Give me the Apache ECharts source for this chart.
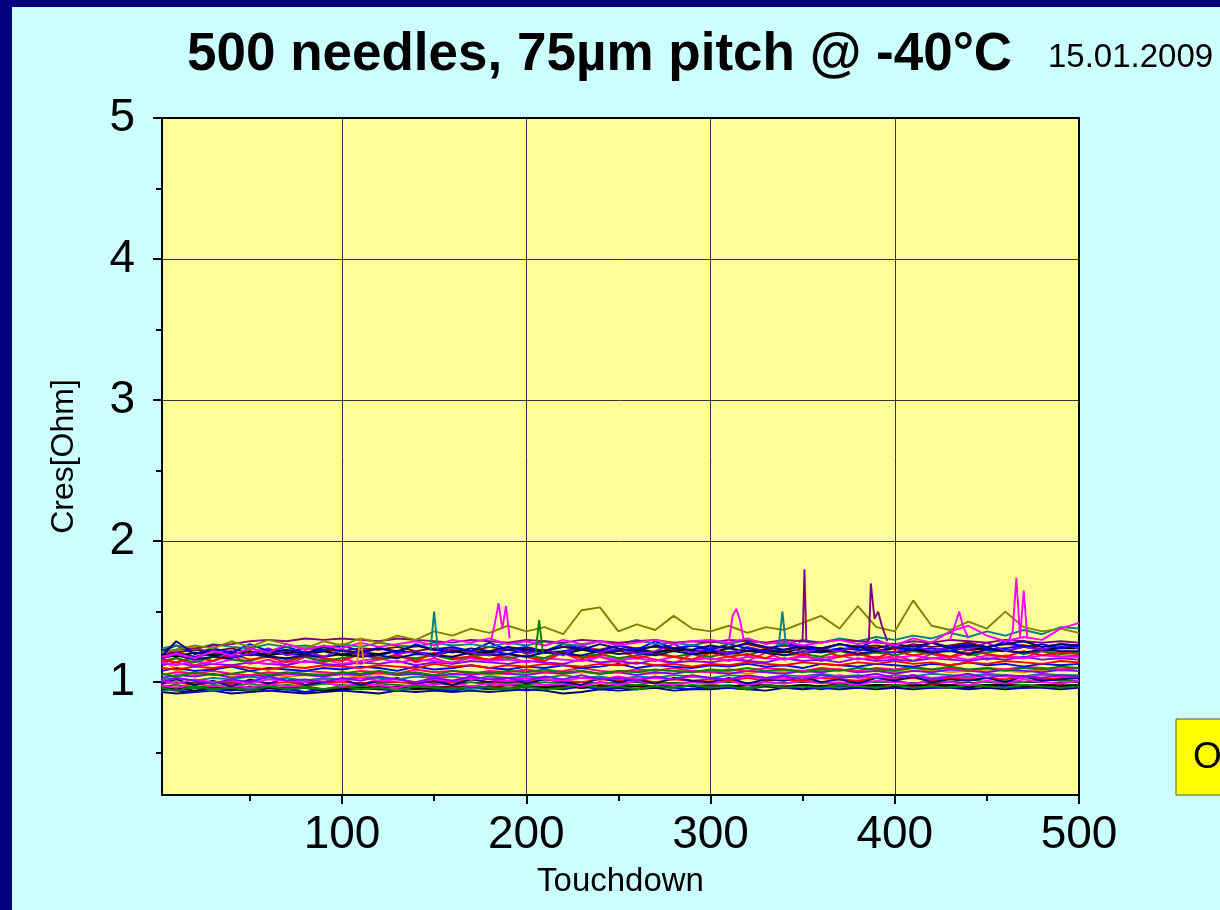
<!DOCTYPE html>
<html>
<head>
<meta charset="utf-8">
<title>500 needles, 75µm pitch @ -40°C</title>
<script src="https://cdn.jsdelivr.net/npm/echarts@6.0.0/dist/echarts.min.js"></script>
<style>
  html, body { margin: 0; padding: 0; background: #ccffff; }
  #chart { width: 1220px; height: 910px; }
</style>
</head>
<body>
<div id="chart"></div>
<script>
// touchdown numbers where the traces are sampled
const touchdowns = [2,10,20,30,40,50,60,70,80,90,
  100,110,120,130,140,150,160,170,180,190,
  200,210,220,230,240,250,260,270,280,290,
  300,310,320,330,340,350,360,370,380,390,
  400,410,420,430,440,450,460,470,480,490,
  500];

// contact resistance [Ohm] of a selection of needles
const navyLow = [0.93,0.92,0.93,0.94,0.92,0.93,0.94,0.93,0.92,0.93,
  0.94,0.93,0.92,0.94,0.93,0.94,0.93,0.94,0.93,0.94,
  0.95,0.94,0.92,0.93,0.95,0.94,0.95,0.96,0.94,0.95,
  0.95,0.96,0.95,0.94,0.96,0.95,0.96,0.95,0.96,0.95,
  0.96,0.95,0.96,0.96,0.95,0.96,0.95,0.96,0.96,0.95,
  0.96];
const blueLow = [0.95,0.94,0.93,0.95,0.94,0.96,0.94,0.95,0.93,0.95,
  0.94,0.96,0.95,0.94,0.96,0.95,0.94,0.96,0.95,0.96,
  0.94,0.96,0.95,0.97,0.95,0.96,0.95,0.97,0.96,0.95,
  0.97,0.96,0.95,0.97,0.96,0.97,0.95,0.97,0.96,0.97,
  0.96,0.98,0.96,0.97,0.96,0.98,0.97,0.96,0.97,0.98,
  0.97];
const tealLow = [0.94,0.95,0.96,0.94,0.96,0.95,0.97,0.95,0.96,0.94,
  0.96,0.95,0.97,0.96,0.95,0.97,0.96,0.95,0.97,0.96,
  0.97,0.96,0.98,0.96,0.97,0.96,0.98,0.97,0.96,0.98,
  0.97,0.98,0.96,0.98,0.97,0.98,0.97,0.96,0.98,0.97,
  0.98,0.97,0.99,0.97,0.98,0.97,0.99,0.98,0.97,0.98,
  0.98];
const wineLow = [0.96,0.95,0.97,0.96,0.95,0.97,0.96,0.96,0.97,0.95,
  0.97,0.96,0.97,0.96,0.98,0.96,0.97,0.97,0.96,0.98,
  0.97,0.97,0.98,0.96,0.98,0.97,0.98,0.97,0.98,0.97,
  0.98,0.97,0.98,0.98,0.97,0.98,0.97,0.99,0.97,0.98,
  0.98,0.97,0.99,0.98,0.97,0.98,0.99,0.97,0.98,0.98,
  0.97];
const blackLow = [0.95,0.96,0.94,0.96,0.95,0.94,0.96,0.95,0.96,0.94,
  0.95,0.96,0.95,0.97,0.95,0.96,0.95,0.97,0.96,0.95,
  0.97,0.96,0.97,0.96,0.97,0.96,0.97,0.96,0.98,0.97,
  0.96,0.97,0.98,0.97,0.96,0.98,0.97,0.98,0.97,0.98,
  0.97,0.98,0.97,0.98,0.97,0.98,0.98,0.97,0.98,0.97,
  0.98];
const greenLow2 = [0.96,0.94,0.97,0.95,0.96,0.94,0.97,0.95,0.96,0.95,
  0.97,0.95,0.96,0.94,0.97,0.96,0.95,0.97,0.96,0.95,
  0.97,0.95,0.96,0.98,0.96,0.97,0.95,0.97,0.96,0.98,
  0.96,0.97,0.95,0.98,0.96,0.97,0.96,0.98,0.97,0.96,
  0.98,0.96,0.97,0.96,0.98,0.97,0.96,0.98,0.97,0.96,
  0.97];
const greenLow = [0.97,0.98,0.96,0.98,0.97,0.99,0.97,0.98,0.97,0.99,
  0.98,0.97,0.99,0.98,0.97,0.99,0.98,1.00,0.98,0.99,
  0.98,1.00,0.99,0.98,1.00,0.99,0.98,1.00,0.99,1.00,
  0.99,1.01,0.99,1.00,0.99,1.01,1.00,0.99,1.01,1.00,
  1.01,0.99,1.01,1.00,1.02,1.00,1.01,1.00,1.02,1.01,
  1.01];
const magentaLow = [0.98,0.96,0.99,0.97,0.98,0.96,0.99,0.97,0.98,1.00,
  0.97,0.99,0.98,0.96,0.99,0.98,1.00,0.97,0.99,0.98,
  1.00,0.98,0.99,0.97,1.00,0.98,1.01,0.99,0.98,1.00,
  0.99,1.01,0.98,1.00,0.99,1.01,0.99,1.00,0.98,1.01,
  1.00,0.99,1.01,1.00,0.98,1.01,0.99,1.02,1.00,0.99,
  1.01];
const redMid = [0.99,1.00,0.98,1.00,0.99,1.01,0.99,1.00,0.98,1.00,
  1.00,0.99,1.01,1.00,0.99,1.01,1.00,1.02,1.00,1.01,
  1.00,1.02,1.01,1.00,1.02,1.01,1.02,1.00,1.02,1.01,
  1.02,1.01,1.03,1.01,1.02,1.01,1.03,1.02,1.01,1.03,
  1.02,1.03,1.01,1.03,1.02,1.03,1.02,1.04,1.02,1.03,
  1.03];
const navyMid = [0.99,1.02,0.98,1.01,0.97,1.02,0.99,1.03,0.98,1.00,
  1.02,0.98,1.01,1.03,0.99,1.01,0.98,1.02,1.00,1.03,
  0.99,1.02,1.00,0.98,1.03,1.00,1.02,0.99,1.03,1.01,
  1.00,1.03,0.99,1.02,1.01,1.04,1.00,1.02,0.99,1.03,
  1.01,1.04,1.00,1.02,1.01,1.03,1.00,1.04,1.01,1.02,
  1.03];
const tealMid = [1.02,1.03,1.01,1.03,1.02,1.04,1.02,1.03,1.01,1.03,
  1.02,1.04,1.03,1.02,1.04,1.03,1.04,1.02,1.04,1.03,
  1.04,1.03,1.05,1.03,1.04,1.02,1.04,1.03,1.05,1.04,
  1.03,1.05,1.04,1.03,1.05,1.04,1.06,1.04,1.05,1.03,
  1.05,1.04,1.06,1.05,1.04,1.06,1.05,1.04,1.06,1.05,
  1.05];
const magentaMid = [1.01,0.99,1.02,1.00,1.01,0.99,1.02,1.01,1.00,1.02,
  1.01,1.03,1.01,1.02,1.00,1.02,1.01,1.03,1.02,1.01,
  1.03,1.02,1.01,1.03,1.02,1.04,1.02,1.03,1.02,1.04,
  1.03,1.02,1.04,1.03,1.02,1.04,1.03,1.05,1.03,1.04,
  1.03,1.05,1.03,1.04,1.03,1.05,1.04,1.03,1.05,1.04,
  1.04];
const violetLow = [1.00,1.03,1.01,0.99,1.02,1.00,1.04,1.01,1.02,1.00,
  1.03,1.01,1.04,1.02,1.00,1.03,1.01,1.04,1.02,1.03,
  1.01,1.04,1.02,1.05,1.02,1.03,1.01,1.04,1.02,1.05,
  1.03,1.02,1.05,1.03,1.04,1.02,1.05,1.03,1.04,1.06,
  1.03,1.05,1.02,1.04,1.06,1.03,1.05,1.04,1.03,1.05,
  1.04];
const orangeMid = [1.16,1.09,1.05,1.06,1.04,1.05,1.06,1.04,1.05,1.06,
  1.05,1.04,1.06,1.05,1.06,1.04,1.05,1.06,1.05,1.06,
  1.06,1.07,1.06,1.07,1.06,1.08,1.07,1.06,1.08,1.07,
  1.08,1.07,1.06,1.08,1.07,1.08,1.07,1.09,1.07,1.08,
  1.07,1.08,1.09,1.07,1.08,1.09,1.08,1.07,1.09,1.08,
  1.08];
const violetMid = [1.03,1.05,1.04,1.06,1.03,1.05,1.04,1.06,1.05,1.04,
  1.06,1.05,1.07,1.05,1.06,1.04,1.06,1.05,1.07,1.06,
  1.05,1.07,1.06,1.08,1.06,1.07,1.05,1.07,1.06,1.08,
  1.07,1.06,1.08,1.07,1.06,1.08,1.07,1.09,1.07,1.08,
  1.06,1.08,1.07,1.09,1.08,1.07,1.09,1.08,1.07,1.09,
  1.08];
const pinkMid = [1.05,1.07,1.06,1.08,1.06,1.05,1.07,1.06,1.08,1.07,
  1.06,1.08,1.07,1.06,1.09,1.07,1.08,1.06,1.08,1.07,
  1.09,1.07,1.08,1.10,1.08,1.07,1.09,1.08,1.10,1.08,
  1.07,1.09,1.08,1.10,1.09,1.08,1.10,1.09,1.08,1.10,
  1.09,1.11,1.09,1.10,1.08,1.10,1.09,1.11,1.10,1.09,
  1.10];
const greenMid = [1.06,1.04,1.07,1.05,1.06,1.08,1.05,1.07,1.06,1.05,
  1.07,1.06,1.08,1.06,1.07,1.05,1.08,1.07,1.06,1.08,
  1.07,1.09,1.07,1.08,1.06,1.08,1.07,1.09,1.08,1.07,
  1.09,1.08,1.10,1.08,1.09,1.07,1.09,1.08,1.10,1.09,
  1.08,1.10,1.09,1.11,1.09,1.10,1.08,1.10,1.09,1.11,
  1.10];
const blueMid = [1.08,1.10,1.08,1.09,1.11,1.08,1.10,1.09,1.08,1.10,
  1.09,1.11,1.10,1.08,1.11,1.09,1.10,1.12,1.10,1.09,
  1.11,1.10,1.12,1.10,1.11,1.13,1.10,1.12,1.11,1.10,
  1.12,1.11,1.13,1.11,1.12,1.10,1.13,1.12,1.11,1.13,
  1.12,1.11,1.13,1.12,1.14,1.12,1.13,1.11,1.13,1.12,
  1.13];
const redHigh = [1.10,1.09,1.11,1.10,1.12,1.10,1.09,1.11,1.10,1.12,
  1.11,1.10,1.12,1.11,1.10,1.13,1.11,1.12,1.10,1.12,
  1.11,1.13,1.12,1.11,1.13,1.12,1.14,1.12,1.13,1.11,
  1.13,1.12,1.14,1.13,1.12,1.14,1.13,1.12,1.14,1.13,
  1.15,1.13,1.14,1.12,1.14,1.13,1.15,1.14,1.13,1.15,
  1.14];
const pinkHigh = [1.13,1.17,1.12,1.15,1.19,1.13,1.16,1.12,1.18,1.14,
  1.17,1.13,1.16,1.20,1.14,1.17,1.13,1.19,1.15,1.18,
  1.14,1.17,1.21,1.15,1.18,1.14,1.19,1.16,1.13,1.20,
  1.16,1.18,1.15,1.21,1.16,1.19,1.15,1.18,1.22,1.16,
  1.19,1.15,1.20,1.17,1.21,1.16,1.19,1.17,1.22,1.18,
  1.19];
const violetHigh = [1.12,1.14,1.11,1.13,1.12,1.14,1.13,1.12,1.15,1.13,
  1.12,1.14,1.13,1.15,1.12,1.14,1.13,1.15,1.14,1.13,
  1.15,1.14,1.13,1.16,1.14,1.15,1.13,1.16,1.14,1.15,
  1.14,1.16,1.15,1.14,1.17,1.15,1.16,1.14,1.17,1.15,
  1.16,1.15,1.17,1.16,1.15,1.17,1.16,1.18,1.16,1.17,
  1.16];
const magentaHigh = [1.14,1.12,1.15,1.13,1.16,1.14,1.13,1.15,1.14,1.16,
  1.13,1.15,1.17,1.14,1.16,1.15,1.14,1.17,1.15,1.16,
  1.14,1.17,1.16,1.15,1.18,1.16,1.17,1.15,1.18,1.16,
  1.17,1.15,1.18,1.17,1.16,1.18,1.17,1.19,1.16,1.18,
  1.17,1.19,1.17,1.18,1.16,1.19,1.18,1.17,1.19,1.18,
  1.18];
const greenHigh = [1.15,1.17,1.14,1.18,1.16,1.15,1.19,1.16,1.18,1.15,
  1.17,1.20,1.16,1.18,1.17,1.19,1.16,1.18,1.20,1.17,
  1.19,1.17,1.22,1.18,1.20,1.17,1.19,1.21,1.18,1.20,
  1.18,1.21,1.19,1.23,1.19,1.20,1.18,1.22,1.19,1.21,
  1.19,1.22,1.20,1.24,1.19,1.21,1.23,1.20,1.22,1.20,
  1.21];
const redUpper = [1.16,1.14,1.18,1.15,1.20,1.16,1.18,1.14,1.19,1.17,
  1.15,1.20,1.17,1.19,1.15,1.21,1.17,1.18,1.16,1.20,
  1.18,1.15,1.21,1.17,1.19,1.23,1.17,1.20,1.18,1.16,
  1.21,1.18,1.20,1.17,1.22,1.19,1.24,1.18,1.20,1.17,
  1.22,1.19,1.21,1.18,1.23,1.20,1.18,1.22,1.19,1.21,
  1.20];
const navyHigh = [1.17,1.19,1.16,1.18,1.17,1.20,1.18,1.17,1.19,1.18,
  1.20,1.18,1.19,1.17,1.20,1.19,1.18,1.21,1.19,1.20,
  1.18,1.21,1.20,1.19,1.22,1.20,1.21,1.19,1.22,1.20,
  1.21,1.20,1.22,1.21,1.19,1.22,1.21,1.23,1.20,1.22,
  1.21,1.23,1.21,1.22,1.20,1.23,1.22,1.21,1.23,1.22,
  1.22];
const blueHigh = [1.19,1.21,1.18,1.20,1.22,1.19,1.21,1.20,1.19,1.22,
  1.20,1.21,1.19,1.22,1.21,1.20,1.23,1.21,1.22,1.20,
  1.23,1.21,1.22,1.24,1.21,1.23,1.22,1.21,1.24,1.22,
  1.23,1.21,1.24,1.22,1.23,1.25,1.22,1.24,1.23,1.22,
  1.25,1.23,1.24,1.22,1.25,1.23,1.24,1.26,1.23,1.25,
  1.24];
const blackHigh = [1.20,1.18,1.21,1.19,1.20,1.22,1.19,1.21,1.20,1.22,
  1.19,1.21,1.20,1.22,1.21,1.19,1.22,1.20,1.21,1.23,
  1.21,1.22,1.20,1.23,1.21,1.22,1.24,1.21,1.23,1.22,
  1.21,1.24,1.22,1.23,1.21,1.24,1.22,1.23,1.25,1.22,
  1.24,1.23,1.22,1.25,1.23,1.24,1.22,1.25,1.23,1.24,
  1.24];
const wineHigh = [1.22,1.21,1.23,1.22,1.24,1.21,1.23,1.22,1.24,1.23,
  1.22,1.24,1.23,1.25,1.22,1.24,1.23,1.22,1.25,1.23,
  1.24,1.22,1.25,1.24,1.23,1.26,1.24,1.25,1.23,1.26,
  1.24,1.25,1.27,1.24,1.26,1.25,1.24,1.27,1.25,1.26,
  1.24,1.27,1.25,1.26,1.28,1.25,1.27,1.26,1.25,1.27,
  1.26];
const violetTop = [1.16,1.21,1.17,1.23,1.18,1.20,1.24,1.19,1.22,1.18,
  1.23,1.19,1.25,1.20,1.22,1.18,1.24,1.21,1.19,1.25,
  1.20,1.23,1.19,1.26,1.21,1.24,1.20,1.22,1.27,1.21,
  1.24,1.20,1.25,1.22,1.27,1.21,1.24,1.22,1.26,1.23,
  1.21,1.26,1.22,1.25,1.23,1.28,1.22,1.25,1.23,1.27,
  1.24];
const blueTop = [1.22,1.26,1.20,1.24,1.21,1.27,1.22,1.25,1.21,1.23,
  1.26,1.22,1.24,1.21,1.27,1.23,1.25,1.22,1.28,1.23,
  1.25,1.22,1.27,1.24,1.22,1.26,1.23,1.29,1.24,1.26,
  1.23,1.27,1.24,1.22,1.28,1.25,1.23,1.27,1.24,1.30,
  1.25,1.23,1.28,1.25,1.27,1.24,1.29,1.25,1.27,1.24,
  1.26];
const navyTop = [1.18,1.29,1.20,1.22,1.19,1.24,1.21,1.23,1.20,1.25,
  1.22,1.21,1.24,1.22,1.26,1.23,1.21,1.24,1.22,1.25,
  1.23,1.22,1.25,1.23,1.27,1.24,1.22,1.26,1.24,1.23,
  1.26,1.24,1.28,1.25,1.23,1.26,1.24,1.27,1.25,1.24,
  1.27,1.25,1.28,1.24,1.26,1.25,1.27,1.29,1.25,1.27,
  1.26];
const tealTop = [1.24,1.26,1.23,1.27,1.25,1.24,1.27,1.25,1.26,1.24,
  1.27,1.25,1.28,1.26,1.25,1.28,1.26,1.27,1.25,1.28,
  1.26,1.29,1.27,1.26,1.29,1.27,1.30,1.27,1.28,1.26,
  1.29,1.27,1.30,1.28,1.27,1.30,1.28,1.31,1.29,1.32,
  1.30,1.33,1.31,1.35,1.32,1.36,1.33,1.37,1.34,1.39,
  1.38];
const purpleTop = [1.21,1.23,1.24,1.26,1.27,1.29,1.30,1.29,1.31,1.30,
  1.31,1.30,1.29,1.31,1.30,1.29,1.28,1.30,1.29,1.28,
  1.30,1.29,1.28,1.30,1.29,1.28,1.29,1.30,1.28,1.29,
  1.28,1.30,1.29,1.28,1.30,1.29,1.28,1.30,1.29,1.28,
  1.27,1.29,1.28,1.30,1.29,1.28,1.30,1.29,1.28,1.29,
  1.28];
const oliveTop = [1.21,1.23,1.26,1.24,1.29,1.25,1.30,1.27,1.24,1.29,
  1.26,1.31,1.28,1.33,1.30,1.36,1.33,1.38,1.35,1.40,
  1.36,1.39,1.34,1.51,1.53,1.36,1.41,1.37,1.47,1.38,
  1.36,1.40,1.35,1.39,1.37,1.42,1.47,1.38,1.54,1.39,
  1.36,1.58,1.40,1.37,1.43,1.38,1.50,1.39,1.36,1.38,
  1.35];
const magentaTop = [1.18,1.20,1.17,1.22,1.19,1.24,1.21,1.27,1.23,1.26,
  1.24,1.28,1.25,1.27,1.29,1.26,1.30,1.28,1.31,1.27,
  1.29,1.26,1.30,1.27,1.29,1.26,1.28,1.30,1.27,1.29,
  1.30,1.28,1.31,1.27,1.29,1.26,1.28,1.30,1.27,1.29,
  1.26,1.31,1.28,1.36,1.40,1.33,1.29,1.32,1.30,1.38,
  1.42];

// short single-touchdown excursions
const purpleSpike1Td = [348,350,351,352,354];
const purpleSpike1 = [1.28,1.30,1.80,1.29,1.28];
const purpleSpike2Td = [384,386,387,389,391,393,396];
const purpleSpike2 = [1.28,1.30,1.70,1.45,1.50,1.40,1.29];
const magentaSpike1Td = [181,183,185,187,189,191];
const magentaSpike1 = [1.30,1.42,1.56,1.38,1.54,1.31];
const magentaSpike2Td = [310,312,314,316,318];
const magentaSpike2 = [1.29,1.47,1.52,1.44,1.30];
const magentaSpike3Td = [430,433,435,437,440];
const magentaSpike3 = [1.30,1.42,1.50,1.40,1.31];
const magentaSpike4Td = [462,464,466,468,470,472];
const magentaSpike4 = [1.30,1.36,1.74,1.32,1.65,1.31];
const tealSpike1Td = [148,150,152];
const tealSpike1 = [1.22,1.50,1.23];
const tealSpike2Td = [337,339,341];
const tealSpike2 = [1.25,1.50,1.26];
const greenSpikeTd = [205,207,209];
const greenSpike = [1.20,1.44,1.21];
const orangeSpikeTd = [108,110,112];
const orangeSpike = [1.12,1.31,1.13];

// axis ticks
const xTicks = [100, 200, 300, 400, 500];
const xMinorTicks = [50, 150, 250, 350, 450];
const yTicks = [1, 2, 3, 4, 5];
const yMinorTicks = [0.5, 1.5, 2.5, 3.5, 4.5];
const xGrid = [100, 200, 300, 400];
const yGrid = [1, 2, 3, 4];

const traces = [
  [navyLow, '#000080'], [blueLow, '#0000ff'], [tealLow, '#008080'],
  [wineLow, '#800000'], [blackLow, '#000000'], [greenLow2, '#008000'],
  [greenLow, '#008000'], [magentaLow, '#ff00ff'],
  [redMid, '#ff0000'], [navyMid, '#000080'], [tealMid, '#008080'],
  [magentaMid, '#ff00ff'], [violetLow, '#8000ff'], [orangeMid, '#ff8000'],
  [violetMid, '#8000ff'], [pinkMid, '#ff0080'], [greenMid, '#008000'],
  [blueMid, '#0000ff'],
  [redHigh, '#ff0000'], [pinkHigh, '#ff0080'], [violetHigh, '#8000ff'],
  [magentaHigh, '#ff00ff'], [greenHigh, '#008000'], [redUpper, '#ff0000'],
  [navyHigh, '#000080'], [blueHigh, '#0000ff'], [blackHigh, '#000000'],
  [wineHigh, '#800000'], [violetTop, '#8000ff'], [blueTop, '#0000ff'],
  [tealTop, '#008080'], [purpleTop, '#800080'], [oliveTop, '#808000'],
  [navyTop, '#000080'], [magentaTop, '#ff00ff']
];
const spikes = [
  [purpleSpike1Td, purpleSpike1, '#800080'], [purpleSpike2Td, purpleSpike2, '#800080'],
  [magentaSpike1Td, magentaSpike1, '#ff00ff'], [magentaSpike2Td, magentaSpike2, '#ff00ff'],
  [magentaSpike3Td, magentaSpike3, '#ff00ff'], [magentaSpike4Td, magentaSpike4, '#ff00ff'],
  [tealSpike1Td, tealSpike1, '#008080'], [tealSpike2Td, tealSpike2, '#008080'],
  [greenSpikeTd, greenSpike, '#008000'], [orangeSpikeTd, orangeSpike, '#ff8000']
];

const FONT = 'Liberation Sans, Arial, sans-serif';

function lineSeries(xs, ys, color) {
  return {
    type: 'line',
    data: xs.map((t, i) => [t, ys[i]]),
    symbol: 'none',
    z: 3,
    silent: true,
    lineStyle: { width: 1.9, color: color },
    itemStyle: { color: color }
  };
}

const series = traces.map(tr => lineSeries(touchdowns, tr[0], tr[1]));
spikes.forEach(sp => series.push(lineSeries(sp[0], sp[1], sp[2])));

// grid lines drawn through the axis scales
series[0].markLine = {
  silent: true,
  symbol: ['none', 'none'],
  z: 1,
  animation: false,
  label: { show: false },
  lineStyle: { color: '#333333', width: 1, type: 'solid' },
  data: xGrid.map(v => ({ xAxis: v })).concat(yGrid.map(v => ({ yAxis: v })))
};

const chart = echarts.init(document.getElementById('chart'));
chart.setOption({
  animation: false,
  backgroundColor: '#ccffff',
  textStyle: { fontFamily: FONT },
  title: [
    {
      text: '500 needles, 75µm pitch @ -40°C',
      left: 182, top: 24,
      textStyle: { fontSize: 53, fontWeight: 'bold', color: '#000', fontFamily: FONT }
    },
    {
      text: '15.01.2009',
      left: 1043, top: 36,
      textStyle: { fontSize: 33, fontWeight: 'normal', color: '#000', fontFamily: FONT }
    }
  ],
  grid: {
    left: 162, right: 141, top: 118, bottom: 115,
    containLabel: false,
    outerBoundsMode: 'none',
    show: true,
    backgroundColor: '#ffff99',
    borderColor: '#000',
    borderWidth: 2
  },
  xAxis: [
    {
      type: 'value', min: 2.3, max: 500,
      name: 'Touchdown', nameLocation: 'middle', nameGap: 70,
      nameTextStyle: { fontSize: 33, color: '#000', fontFamily: FONT },
      axisLine: { show: true, lineStyle: { color: '#000', width: 2 } },
      axisTick: { show: true, customValues: xTicks, length: 9, lineStyle: { color: '#000', width: 2 } },
      axisLabel: { customValues: xTicks, fontSize: 46, margin: 17, color: '#000', fontFamily: FONT },
      splitLine: { show: false }
    },
    {
      type: 'value', min: 2.3, max: 500, position: 'bottom',
      axisLine: { show: false },
      axisTick: { show: true, customValues: xMinorTicks, length: 6, lineStyle: { color: '#000', width: 2 } },
      axisLabel: { show: false },
      splitLine: { show: false }
    }
  ],
  yAxis: [
    {
      type: 'value', min: 0.2, max: 5,
      name: 'Cres[Ohm]', nameLocation: 'middle', nameGap: 82,
      nameTextStyle: { fontSize: 32, color: '#000', fontFamily: FONT },
      axisLine: { show: true, lineStyle: { color: '#000', width: 2 } },
      axisTick: { show: true, customValues: yTicks, length: 9, lineStyle: { color: '#000', width: 2 } },
      axisLabel: { customValues: yTicks, fontSize: 46, margin: 27, color: '#000', fontFamily: FONT },
      splitLine: { show: false }
    },
    {
      type: 'value', min: 0.2, max: 5, position: 'left',
      axisLine: { show: false },
      axisTick: { show: true, customValues: yMinorTicks, length: 6, lineStyle: { color: '#000', width: 2 } },
      axisLabel: { show: false },
      splitLine: { show: false }
    }
  ],
  graphic: [
    { type: 'rect', shape: { x: 0, y: 0, width: 1220, height: 7 }, style: { fill: '#000080' }, silent: true },
    { type: 'rect', shape: { x: 0, y: 0, width: 12, height: 910 }, style: { fill: '#000080' }, silent: true },
    { type: 'rect', shape: { x: 1176, y: 719, width: 60, height: 76 }, style: { fill: '#ffff00', stroke: '#555', lineWidth: 1 }, silent: true },
    { type: 'text', x: 1193, y: 758, style: { text: 'O', fontSize: 37, fontFamily: FONT, fill: '#000', verticalAlign: 'middle' }, silent: true }
  ],
  series: series
});
</script>
</body>
</html>
